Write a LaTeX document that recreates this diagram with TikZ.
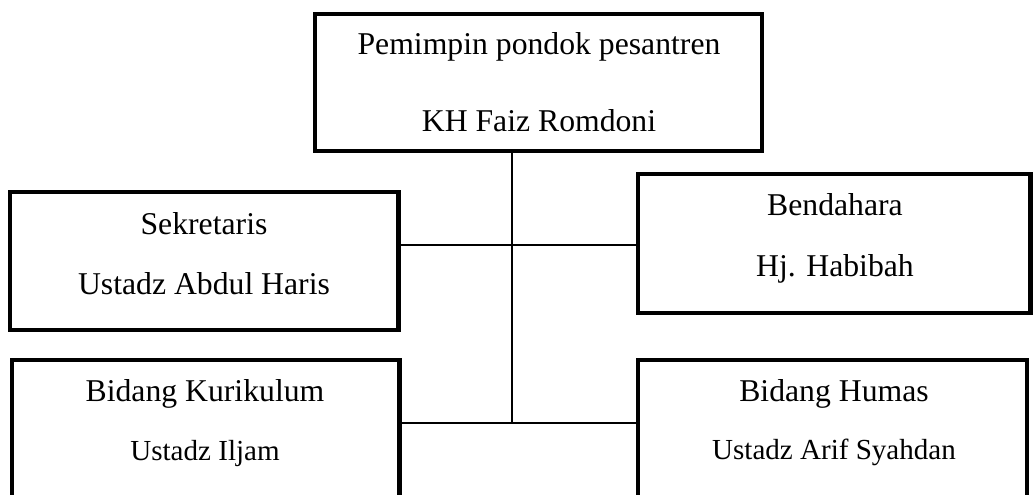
\documentclass[tikz,border=0pt]{standalone}
\usepackage{fontspec}
\setmainfont{Liberation Serif}
\usetikzlibrary{positioning}
\tikzset{
  kotak/.style={draw,line width=1.6pt,inner sep=0pt},
  garis/.style={line width=0.65pt},
  teks/.style={anchor=base,inner sep=0pt,font=\fontsize{12}{14}\selectfont},
  tekskecil/.style={anchor=base,inner sep=0pt,font=\fontsize{11}{13}\selectfont}
}

\begin{document}
\begin{tikzpicture}[x=0.3785pt,y=-0.3785pt]
\clip (0,0) rectangle (1034,495);
% kotak
\node[kotak,minimum width=169.2pt,minimum height=51.9pt] (pimpinan) at (538.5,82.5) {};
\node[kotak,minimum width=147.0pt,minimum height=52.2pt] (sekretaris) at (204.2,261) {};
\node[kotak,minimum width=148.6pt,minimum height=52.6pt] (bendahara) at (834.2,243.5) {};
\node[kotak,minimum width=146.8pt,minimum height=60.6pt] (kurikulum) at (205.6,440) {};
\node[kotak,minimum width=147.2pt,minimum height=60.6pt] (humas) at (832.5,440) {};
% teks
\node[teks] (pimpinanA) at (539,55) {Pemimpin pondok pesantren};
\node[teks] (pimpinanB) at (539,132) {KH Faiz Romdoni};
\node[teks] (sekretarisA) at (204,235) {Sekretaris};
\node[teks] (sekretarisB) at (204,295) {Ustadz Abdul Haris};
\node[teks] (bendaharaA) at (835,216) {Bendahara};
\node[teks] (bendaharaB) at (835,277) {Hj. Habibah};
\node[teks] (kurikulumA) at (205,402) {Bidang Kurikulum};
\node[tekskecil] (kurikulumB) at (205,461) {Ustadz Iljam};
\node[teks] (humasA) at (834,402) {Bidang Humas};
\node[tekskecil] (humasB) at (834,460) {Ustadz Arif Syahdan};
% garis
\coordinate (cabang) at (512,245);
\coordinate (pusat) at (512,423);
\draw[garis] (pimpinan.south -| pusat) -- (pusat);
\draw[garis] (sekretaris.east |- cabang) -- (bendahara.west |- cabang);
\draw[garis] (kurikulum.east |- pusat) -- (humas.west |- pusat);
\end{tikzpicture}
\end{document}
